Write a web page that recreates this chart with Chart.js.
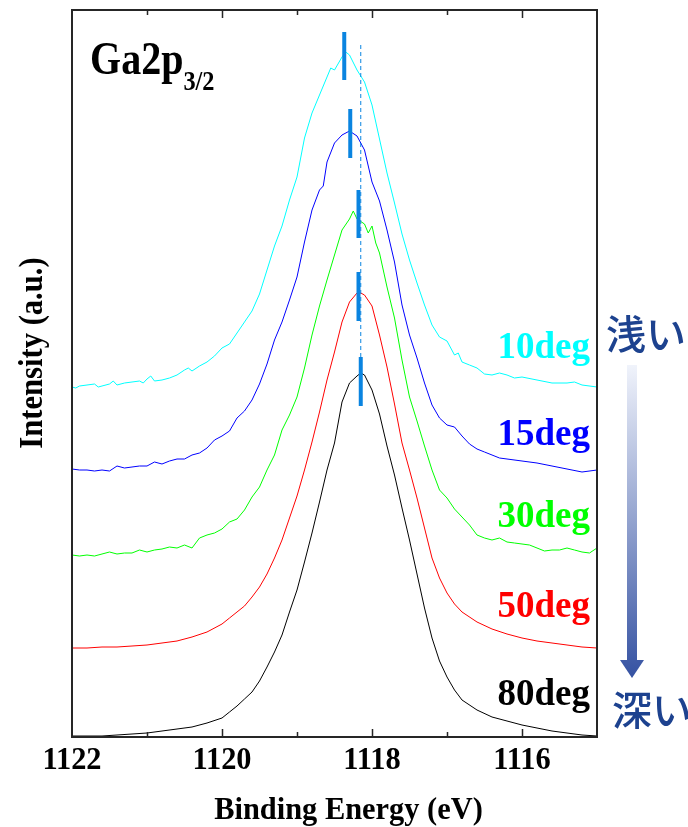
<!DOCTYPE html>
<html>
<head>
<meta charset="utf-8">
<script src="https://cdn.jsdelivr.net/npm/chart.js@4.4.1/dist/chart.umd.min.js"></script>
<style>
  html, body { margin: 0; padding: 0; background: #fff; }
  #wrap { width: 688px; height: 827px; position: relative; }
</style>
</head>
<body>
<div id="wrap"><canvas id="xps"></canvas></div>
<script>
// Ga2p3/2 spectra at several take-off angles, stacked with offsets (a.u.)
const energyMain = [1122, 1121.8, 1121.6, 1121.4, 1121.2, 1121, 1120.8, 1120.6, 1120.4, 1120.2,
  1120, 1119.9, 1119.8, 1119.7, 1119.6, 1119.5, 1119.4, 1119.3, 1119.2, 1119.1,
  1119, 1118.9, 1118.8, 1118.7, 1118.6, 1118.5, 1118.4, 1118.3, 1118.2, 1118.15,
  1118.1, 1118, 1117.9, 1117.8, 1117.7, 1117.6, 1117.5, 1117.4, 1117.3, 1117.2,
  1117.1, 1117, 1116.9, 1116.8, 1116.6, 1116.4, 1116.2, 1116, 1115.8, 1115.6,
  1115.4, 1115.2, 1115];
const int80 = [1, 1, 1, 2, 3, 4, 6, 8, 10, 14,
  19, 25, 31, 38, 45, 56, 70, 85, 102, 125,
  147, 175, 204, 235, 267, 294, 335, 354, 361, 364,
  362, 347, 323, 291, 262, 229, 197, 163, 129, 99,
  76, 60, 47, 37, 27, 20, 16, 12, 9, 6,
  4, 2, 1];
const int50 = [89, 89, 90, 90, 91, 92, 94, 96, 100, 105,
  113, 119, 125, 131, 140, 150, 163, 179, 197, 219,
  241, 267, 295, 325, 357, 385, 415, 435, 444, 444,
  442, 431, 402, 370, 333, 294, 267, 239, 209, 179,
  159, 144, 133, 125, 115, 108, 103, 99, 96, 94,
  92, 90, 89];

const energy30 = [1122, 1121.9, 1121.8, 1121.7, 1121.6, 1121.5, 1121.4, 1121.3, 1121.2, 1121.1,
  1121, 1120.9, 1120.8, 1120.7, 1120.6, 1120.5, 1120.4, 1120.3, 1120.2, 1120.1,
  1120, 1119.9, 1119.8, 1119.7, 1119.6, 1119.5, 1119.4, 1119.3, 1119.2, 1119.1,
  1119, 1118.9, 1118.8, 1118.7, 1118.6, 1118.5, 1118.4, 1118.3, 1118.25, 1118.2,
  1118.1, 1118.05, 1118, 1117.95, 1117.9, 1117.8, 1117.7, 1117.6, 1117.5, 1117.4,
  1117.3, 1117.2, 1117.1, 1117, 1116.9, 1116.8, 1116.7, 1116.6, 1116.5, 1116.4,
  1116.3, 1116.2, 1116.1, 1116, 1115.9, 1115.8, 1115.7, 1115.6, 1115.5, 1115.4,
  1115.3, 1115.2, 1115.1, 1115];
const int30 = [182, 181, 182, 181, 183, 185, 183, 184, 184, 187,
  185, 187, 188, 190, 189, 192, 189, 199, 202, 204,
  208, 215, 218, 227, 240, 250, 267, 282, 307, 322,
  340, 369, 402, 431, 457, 482, 507, 518, 526, 518,
  513, 504, 511, 494, 484, 450, 419, 377, 340, 316,
  291, 267, 247, 239, 228, 220, 212, 202, 199, 197,
  199, 195, 194, 193, 192, 189, 186, 187, 187, 189,
  187, 185, 184, 189];

const energy15 = [1122, 1121.9, 1121.8, 1121.7, 1121.6, 1121.5, 1121.4, 1121.3, 1121.2, 1121.1,
  1121, 1120.9, 1120.8, 1120.7, 1120.6, 1120.5, 1120.4, 1120.3, 1120.2, 1120.1,
  1120, 1119.9, 1119.8, 1119.7, 1119.6, 1119.5, 1119.4, 1119.3, 1119.2, 1119.1,
  1119, 1118.9, 1118.8, 1118.7, 1118.65, 1118.6, 1118.5, 1118.4, 1118.3, 1118.2,
  1118.1, 1118, 1117.9, 1117.8, 1117.7, 1117.6, 1117.5, 1117.4, 1117.3, 1117.2,
  1117.1, 1117, 1116.9, 1116.8, 1116.7, 1116.6, 1116.5, 1116.4, 1116.3, 1116.2,
  1116, 1115.8, 1115.6, 1115.4, 1115.2, 1115];
const int15 = [268, 267, 267, 266, 267, 266, 271, 269, 270, 271,
  271, 275, 273, 276, 278, 278, 282, 284, 289, 297,
  301, 306, 319, 326, 337, 353, 373, 397, 415, 437,
  460, 495, 527, 547, 551, 575, 594, 602, 606, 601,
  587, 555, 536, 507, 475, 432, 402, 379, 354, 332,
  319, 312, 310, 301, 293, 288, 285, 282, 279, 278,
  276, 274, 271, 268, 265, 267];

const energy10 = [1122, 1121.95, 1121.9, 1121.8, 1121.7, 1121.65, 1121.6, 1121.5, 1121.45, 1121.4,
  1121.3, 1121.2, 1121.1, 1121.05, 1121, 1120.95, 1120.9, 1120.8, 1120.7, 1120.6,
  1120.5, 1120.45, 1120.4, 1120.3, 1120.2, 1120.1, 1120, 1119.9, 1119.8, 1119.7,
  1119.6, 1119.5, 1119.4, 1119.3, 1119.2, 1119.1, 1119, 1118.9, 1118.8, 1118.7,
  1118.6, 1118.55, 1118.5, 1118.4, 1118.35, 1118.3, 1118.2, 1118.1, 1118, 1117.9,
  1117.8, 1117.7, 1117.6, 1117.5, 1117.4, 1117.3, 1117.2, 1117.1, 1117, 1116.9,
  1116.85, 1116.8, 1116.7, 1116.6, 1116.5, 1116.4, 1116.3, 1116.2, 1116.1, 1116,
  1115.8, 1115.6, 1115.4, 1115.3, 1115.2, 1115];
const int10 = [350, 349, 351, 352, 353, 350, 351, 353, 356, 352,
  354, 355, 356, 354, 358, 361, 356, 357, 359, 362,
  367, 369, 366, 371, 375, 381, 389, 393, 404, 415,
  426, 443, 467, 491, 511, 537, 560, 599, 624, 642,
  660, 669, 667, 680, 685, 682, 667, 655, 632, 598,
  564, 534, 503, 477, 454, 432, 412, 400, 396, 382,
  384, 375, 372, 369, 363, 362, 364, 362, 359, 360,
  357, 354, 354, 355, 352, 350];

// peak positions (eV) and the span of each peak marker (a.u.)
const angleLabels = ['10deg', '15deg', '30deg', '50deg', '80deg'];
const peakEnergy = [1118.37, 1118.29, 1118.18, 1118.18, 1118.15];
const markLow = [657, 579, 499, 416, 331];
const markHigh = [705, 628, 547, 465, 380];
const refEnergy = 1118.15;
const refSpan = [380, 694];

const xTicks = [1122, 1120, 1118, 1116];

const lineColors = ['#00ffff', '#0000ff', '#00ff00', '#ff0000', '#000000'];
const markColor = '#0a84e0';
const serif = '"Liberation Serif", "Times New Roman", serif';

function pts(xs, ys) {
  return xs.map((x, i) => ({ x: x, y: ys[i] }));
}

const curves = [
  pts(energy10, int10),
  pts(energy15, int15),
  pts(energy30, int30),
  pts(energyMain, int50),
  pts(energyMain, int80)
];

const datasets = curves.map((d, i) => ({
  label: angleLabels[i],
  data: d,
  borderColor: lineColors[i],
  borderWidth: 1,
  pointRadius: 0,
  showLine: true,
  tension: 0,
  order: 2
}));

peakEnergy.forEach((e, i) => {
  datasets.push({
    label: 'peak ' + angleLabels[i],
    data: [{ x: e, y: markLow[i] }, { x: e, y: markHigh[i] }],
    borderColor: markColor,
    borderWidth: 4,
    borderCapStyle: 'butt',
    pointRadius: 0,
    showLine: true,
    order: 0
  });
});

datasets.push({
  label: 'reference',
  data: [{ x: refEnergy, y: refSpan[0] }, { x: refEnergy, y: refSpan[1] }],
  borderColor: markColor,
  borderWidth: 1,
  borderDash: [4, 3],
  pointRadius: 0,
  showLine: true,
  order: 1
});

// draws text squeezed horizontally by sx
function squeezed(ctx, str, x, y, font, color, align, sx) {
  ctx.save();
  ctx.font = font;
  ctx.fillStyle = color;
  ctx.textAlign = align;
  ctx.textBaseline = 'alphabetic';
  ctx.translate(x, y);
  ctx.scale(sx, 1);
  ctx.fillText(str, 0, 0);
  ctx.restore();
}

const decorations = {
  id: 'decorations',
  afterDraw(chart) {
    const ctx = chart.ctx;
    const a = chart.chartArea;
    const xs = chart.scales.x;

    // frame
    ctx.save();
    ctx.strokeStyle = '#262626';
    ctx.lineWidth = 2;
    ctx.strokeRect(a.left, a.top, a.right - a.left, a.bottom - a.top);

    // inward ticks on top and bottom
    ctx.lineWidth = 1.5;
    xs.ticks.forEach(t => {
      const v = t.value;
      if (v >= 1122 || v <= 1115) return;
      const px = Math.round(xs.getPixelForValue(v)) + 0.5;
      const len = v % 2 === 0 ? 8 : 5;
      ctx.beginPath();
      ctx.moveTo(px, a.bottom);
      ctx.lineTo(px, a.bottom - len);
      ctx.moveTo(px, a.top);
      ctx.lineTo(px, a.top + len);
      ctx.stroke();
    });
    ctx.restore();

    // tick labels
    xTicks.forEach(v => {
      squeezed(ctx, String(v), xs.getPixelForValue(v), a.bottom + 32,
        'bold 32px ' + serif, '#000', 'center', 0.95);
    });

    // axis titles
    squeezed(ctx, 'Binding Energy (eV)', (a.left + a.right) / 2 + 14, a.bottom + 82,
      'bold 32px ' + serif, '#000', 'center', 0.95);
    ctx.save();
    ctx.translate(42, 353);
    ctx.rotate(-Math.PI / 2);
    squeezed(ctx, 'Intensity (a.u.)', 0, 0, 'bold 34px ' + serif, '#000', 'center', 0.9);
    ctx.restore();

    // orbital name
    ctx.save();
    ctx.font = 'bold 46px ' + serif;
    const w = ctx.measureText('Ga2p').width * 0.87;
    ctx.restore();
    squeezed(ctx, 'Ga2p', 90, 74, 'bold 46px ' + serif, '#000', 'left', 0.87);
    squeezed(ctx, '3/2', 90 + w, 90, 'bold 28px ' + serif, '#000', 'left', 0.87);

    // take-off angle labels
    const labelBase = [358, 445, 527, 617, 705];
    angleLabels.forEach((s, i) => {
      squeezed(ctx, s, 590, labelBase[i], 'bold 37px ' + serif, lineColors[i], 'right', 1);
    });

    // depth arrow: shallow to deep
    ctx.save();
    const g = ctx.createLinearGradient(0, 365, 0, 678);
    g.addColorStop(0, '#f0f3fb');
    g.addColorStop(1, '#3552a2');
    ctx.fillStyle = g;
    ctx.fillRect(627, 365, 10, 296);
    ctx.beginPath();
    ctx.moveTo(620, 660);
    ctx.lineTo(644, 660);
    ctx.lineTo(632, 678);
    ctx.closePath();
    ctx.fill();
    ctx.restore();

    squeezed(ctx, '浅い', 606, 349, '500 40px "Noto Sans CJK JP"', '#1d428f', 'left', 1);
    squeezed(ctx, '深い', 612, 725, '500 40px "Noto Sans CJK JP"', '#1d428f', 'left', 1);
  }
};

new Chart(document.getElementById('xps'), {
  type: 'scatter',
  data: { datasets: datasets },
  options: {
    responsive: true,
    maintainAspectRatio: false,
    animation: false,
    layout: { padding: { left: 72, right: 91, top: 10, bottom: 90 } },
    plugins: { legend: { display: false }, tooltip: { enabled: false } },
    scales: {
      x: {
        type: 'linear',
        reverse: true,
        min: 1115,
        max: 1122,
        display: false,
        ticks: { stepSize: 1 }
      },
      y: {
        type: 'linear',
        min: 0,
        max: 727,
        display: false
      }
    }
  },
  plugins: [decorations]
});
</script>
</body>
</html>
